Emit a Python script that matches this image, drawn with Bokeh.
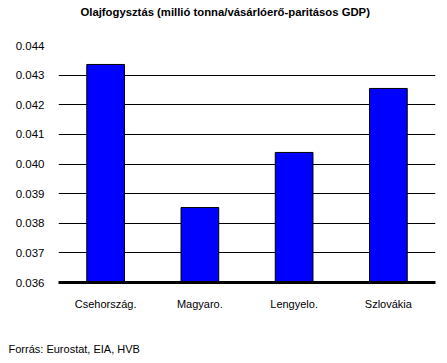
from bokeh.plotting import figure
from bokeh.models import Range1d, FactorRange, Title, NumeralTickFormatter, ColumnDataSource
from bokeh.embed import file_html
from bokeh.resources import INLINE

categories = ["Csehország.", "Magyaro.", "Lengyelo.", "Szlovákia"]
values = [0.04336, 0.03853, 0.04039, 0.04255]
y_ticks = [0.036, 0.037, 0.038, 0.039, 0.040, 0.041, 0.042, 0.043, 0.044]
title_text = "Olajfogysztás (millió tonna/vásárlóerő-paritásos GDP)"
source_text = "Forrás: Eurostat, EIA, HVB"

FONT = "Liberation Sans"

p = figure(width=447, height=363, output_backend="svg", toolbar_location=None,
           x_range=FactorRange(*categories), y_range=Range1d(0.036, 0.044),
           min_border_left=58, min_border_right=12, min_border_top=45, min_border_bottom=81)
p.outline_line_color = None
p.background_fill_color = "white"
p.border_fill_color = "white"

src = ColumnDataSource(dict(cat=categories, val=values))
p.vbar(x="cat", top="val", bottom=0.036, width=0.4, source=src,
       fill_color="#0000FF", line_color="black", line_width=1)

p.xgrid.grid_line_color = None
p.ygrid.grid_line_color = "black"
p.ygrid.grid_line_width = 1
p.yaxis.ticker = y_ticks
p.yaxis.formatter = NumeralTickFormatter(format="0.000")
p.yaxis.axis_line_color = None
p.yaxis.major_tick_line_color = None
p.yaxis.minor_tick_line_color = None
p.yaxis.major_label_standoff = 8
p.yaxis.major_label_text_font = FONT
p.yaxis.major_label_text_font_size = "11.5px"
p.yaxis.major_label_text_color = "black"

p.xaxis.axis_line_color = "black"
p.xaxis.axis_line_width = 3
p.xaxis.major_tick_line_color = None
p.xaxis.minor_tick_line_color = None
p.xaxis.major_label_standoff = 9
p.xaxis.major_label_text_font = FONT
p.xaxis.major_label_text_font_size = "11px"
p.xaxis.major_label_text_color = "black"

p.title.text = ""

top_spacer = Title(text=" ", text_font_size="11px", standoff=14)
p.add_layout(top_spacer, "above")
main_title = Title(text=title_text, align="left", vertical_align="bottom", text_font=FONT,
                   text_font_size="11.3px", text_font_style="bold", text_color="black",
                   offset=22, standoff=0)
p.add_layout(main_title, "above")

bottom_spacer = Title(text=" ", text_font_size="11px", standoff=14)
p.add_layout(bottom_spacer, "below")
footer = Title(text=source_text, align="left", vertical_align="bottom", text_font=FONT,
               text_font_size="11px", text_font_style="normal", text_color="black",
               offset=-50, standoff=0)
p.add_layout(footer, "below")

open("out.html", "w").write(file_html(p, INLINE))
